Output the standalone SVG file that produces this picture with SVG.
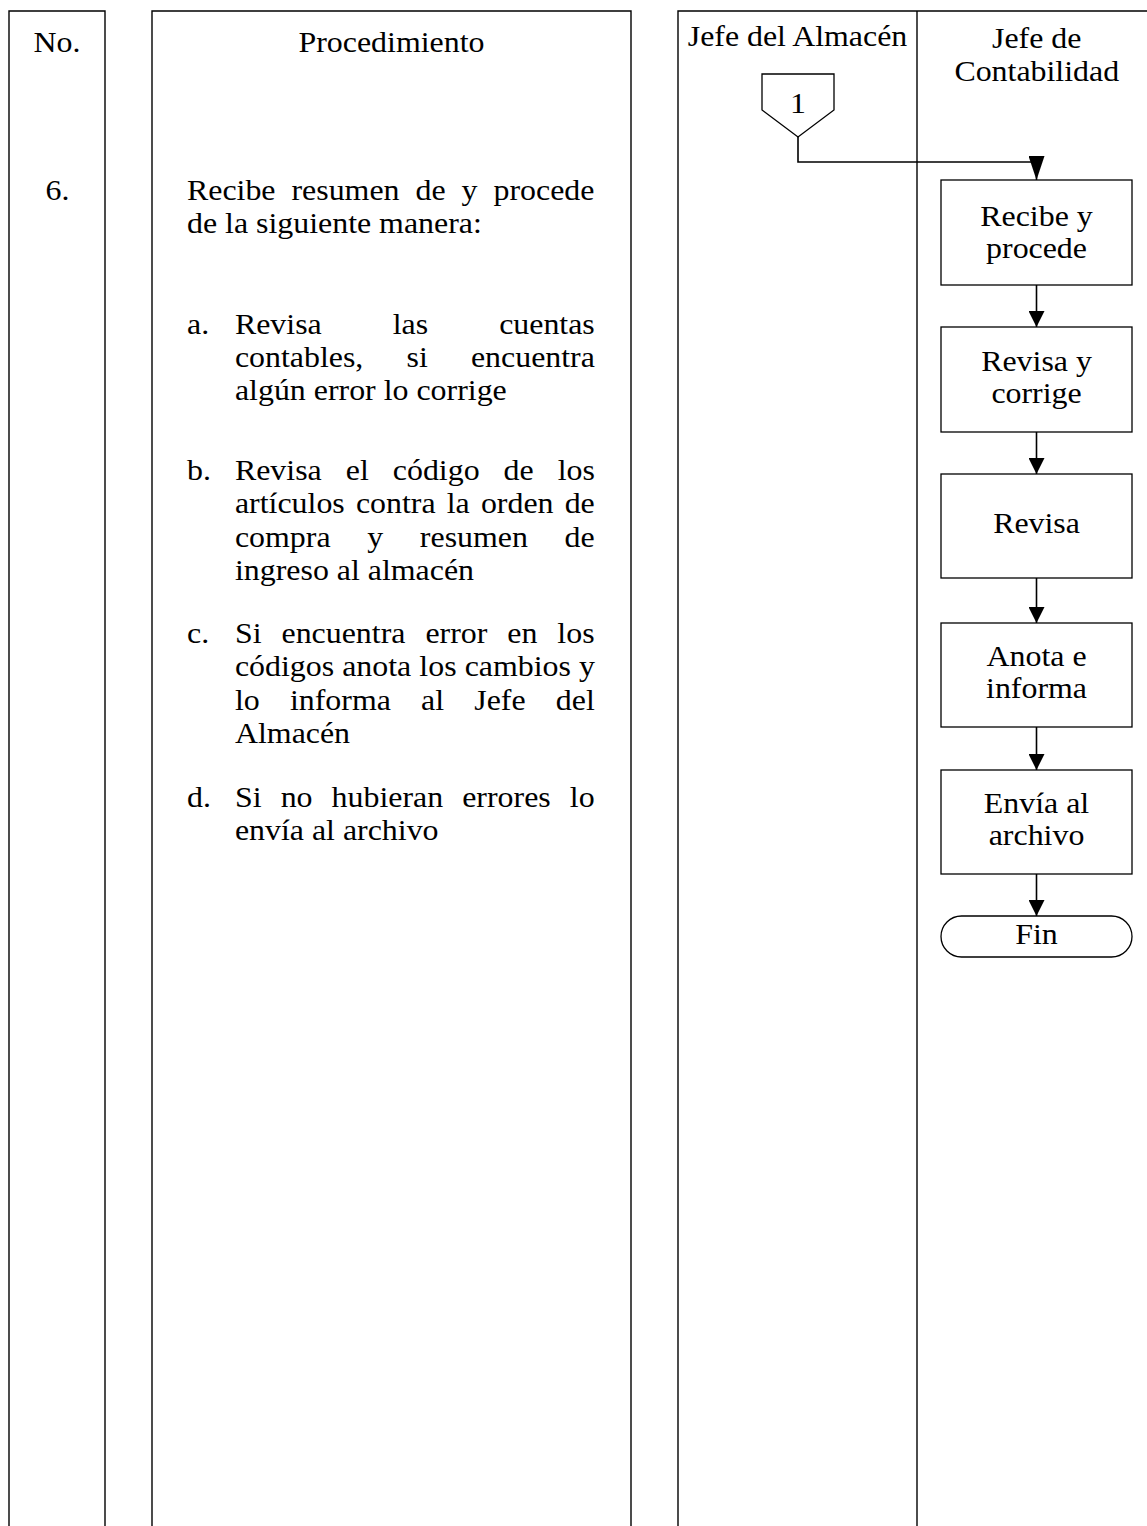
<svg xmlns="http://www.w3.org/2000/svg" width="1147" height="1526" viewBox="0 0 1147 1526">
<style>
.frame{fill:none;stroke:#000;stroke-width:1.4}
.box{fill:#fff;stroke:#000;stroke-width:1.3}
.edge{fill:none;stroke:#000;stroke-width:1.6}
.t{font-family:"Liberation Serif","Times New Roman",serif;font-size:29px;fill:#000}
.m{text-anchor:middle}
</style>
<defs>
<marker id="ah" markerUnits="userSpaceOnUse" markerWidth="16" markerHeight="16" viewBox="0 0 16 16" refX="16" refY="8" orient="auto">
<path d="M0,0 L16,8 L0,16 Z" fill="#000"/>
</marker>
<marker id="ahl" markerUnits="userSpaceOnUse" markerWidth="24" markerHeight="16" viewBox="0 0 24 16" refX="24" refY="8" orient="auto">
<path d="M0,0 L24,8 L0,16 Z" fill="#000"/>
</marker>
</defs>
<rect width="1147" height="1526" fill="#fff"/>
<g id="frame">
<path class="frame" d="M9,1526 V11 H105 V1526"/>
<path class="frame" d="M152,1526 V11 H631 V1526"/>
<path class="frame" d="M678,1526 V11 H1147"/>
<path class="frame" d="M917,11 V1526"/>
</g>
<g id="headers">
<text class="t m" transform="scale(1.1 1)" x="51.8" y="52">No.</text>
<text class="t m" transform="scale(1.1 1)" x="355.9" y="52">Procedimiento</text>
<text class="t m" transform="scale(1.1 1)" x="725" y="46">Jefe del Almacén</text>
<text class="t m" transform="scale(1.1 1)" x="942.5" y="48.5">Jefe de</text>
<text class="t m" transform="scale(1.1 1)" x="942.5" y="81.5">Contabilidad</text>
</g>
<g id="procedure" transform="scale(1.1 1)">
<text class="t m" x="52.3" y="200">6.</text>
<text class="t" x="170" y="200" style="word-spacing:7.3px">Recibe resumen de y procede</text>
<text class="t" x="170" y="233">de la siguiente manera:</text>
<text class="t" x="170" y="334">a.</text>
<text class="t" x="213.6" y="334" style="word-spacing:57.3px">Revisa las cuentas</text>
<text class="t" x="213.6" y="367" style="word-spacing:32px">contables, si encuentra</text>
<text class="t" x="213.6" y="400">algún error lo corrige</text>
<text class="t" x="170" y="480">b.</text>
<text class="t" x="213.6" y="480" style="word-spacing:14.6px">Revisa el código de los</text>
<text class="t" x="213.6" y="513.5" style="word-spacing:2.9px">artículos contra la orden de</text>
<text class="t" x="213.6" y="547" style="word-spacing:26.1px">compra y resumen de</text>
<text class="t" x="213.6" y="580">ingreso al almacén</text>
<text class="t" x="170" y="643">c.</text>
<text class="t" x="213.6" y="643" style="word-spacing:10.9px">Si encuentra error en los</text>
<text class="t" x="213.6" y="676" style="word-spacing:0.1px">códigos anota los cambios y</text>
<text class="t" x="213.6" y="710" style="word-spacing:20.2px">lo informa al Jefe del</text>
<text class="t" x="213.6" y="743">Almacén</text>
<text class="t" x="170" y="807">d.</text>
<text class="t" x="213.6" y="807" style="word-spacing:10.1px">Si no hubieran errores lo</text>
<text class="t" x="213.6" y="840">envía al archivo</text>
</g>
<g id="connectors">
<path class="edge" d="M798,137 V162 H1036.5 V180" marker-end="url(#ahl)"/>
<path class="edge" d="M1036.5,285 V327" marker-end="url(#ah)"/>
<path class="edge" d="M1036.5,432 V474" marker-end="url(#ah)"/>
<path class="edge" d="M1036.5,578 V623" marker-end="url(#ah)"/>
<path class="edge" d="M1036.5,727 V770" marker-end="url(#ah)"/>
<path class="edge" d="M1036.5,874 V916" marker-end="url(#ah)"/>
</g>
<g id="offpage-1">
<polygon class="box" points="762,74 834,74 834,110 798,137 762,110"/>
<text class="t m" transform="scale(1.1 1)" x="725.5" y="113">1</text>
</g>
<g id="recibe">
<rect class="box" x="941" y="180" width="191" height="105"/>
<text class="t m" transform="scale(1.1 1)" x="942.3" y="226">Recibe y</text>
<text class="t m" transform="scale(1.1 1)" x="942.3" y="258.5">procede</text>
</g>
<g id="revisa-corrige">
<rect class="box" x="941" y="327" width="191" height="105"/>
<text class="t m" transform="scale(1.1 1)" x="942.3" y="371.5">Revisa y</text>
<text class="t m" transform="scale(1.1 1)" x="942.3" y="403.5">corrige</text>
</g>
<g id="revisa">
<rect class="box" x="941" y="474" width="191" height="104"/>
<text class="t m" transform="scale(1.1 1)" x="942.3" y="533.5">Revisa</text>
</g>
<g id="anota">
<rect class="box" x="941" y="623" width="191" height="104"/>
<text class="t m" transform="scale(1.1 1)" x="942.3" y="666.5">Anota e</text>
<text class="t m" transform="scale(1.1 1)" x="942.3" y="698.5">informa</text>
</g>
<g id="envia">
<rect class="box" x="941" y="770" width="191" height="104"/>
<text class="t m" transform="scale(1.1 1)" x="942.3" y="813">Envía al</text>
<text class="t m" transform="scale(1.1 1)" x="942.3" y="845.5">archivo</text>
</g>
<g id="fin">
<rect class="box" x="941" y="916" width="191" height="41" rx="20.5" ry="20.5"/>
<text class="t m" transform="scale(1.1 1)" x="942.3" y="944.5">Fin</text>
</g>
</svg>
